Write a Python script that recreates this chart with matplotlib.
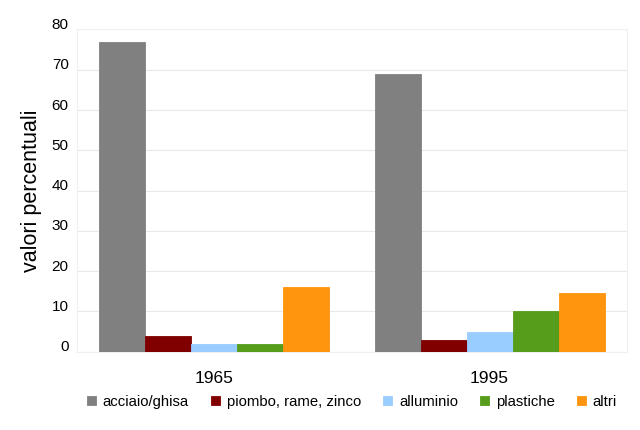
import numpy as np
import matplotlib
matplotlib.use("Agg")
import matplotlib.pyplot as plt
import matplotlib.transforms as mtransforms

plt.rcParams["font.family"] = ["Liberation Sans", "DejaVu Sans"]

# Composition by material, percent
YEARS = ["1965", "1995"]
MATERIALS = ["acciaio/ghisa", "piombo, rame, zinco", "alluminio", "plastiche", "altri"]
ACCIAIO = [77, 69]
PIOMBO = [4, 3]
ALLUMINIO = [2, 5]
PLASTICHE = [2, 10]
ALTRI = [16, 14.7]

COLORS = ["#808080", "#800000", "#99ccff", "#579d1c", "#ff950e"]

series = [ACCIAIO, PIOMBO, ALLUMINIO, PLASTICHE, ALTRI]

fig = plt.figure(figsize=(6.4, 4.3), dpi=100)
ax = fig.add_axes([0.1203, 0.182, 0.8594, 0.7494])

x = np.arange(len(YEARS))
n = len(series)
width = (230 / 275) / n
for i, (vals, name, col) in enumerate(zip(series, MATERIALS, COLORS)):
    offset = (i - (n - 1) / 2) * width
    ax.bar(x + offset, vals, width=width, color=col, edgecolor=col,
           linewidth=0.6, label=name, zorder=3)

ax.set_xlim(-0.5, 1.5)
ax.set_ylim(0, 80)
ax.set_yticks(np.arange(0, 81, 10))
ax.set_xticks(x)
ax.set_xticklabels(YEARS, fontsize=12.5)
ax.tick_params(axis="both", length=0)
ax.tick_params(axis="x", pad=14)
ax.tick_params(axis="y", labelsize=11, pad=6)

# y labels sit slightly above their gridlines
shift = mtransforms.ScaledTranslation(0, 6 / 100, fig.dpi_scale_trans)
for lbl in ax.get_yticklabels():
    lbl.set_transform(lbl.get_transform() + shift)

ax.grid(axis="y", color="#e8e8e8", linewidth=0.8, zorder=0)
for side in ["top", "right", "left", "bottom"]:
    ax.spines[side].set_color("#f0f0f0")
    ax.spines[side].set_linewidth(0.8)

ax.set_ylabel("valori percentuali", fontsize=15.5, labelpad=7)

ax.legend(loc="center", bbox_to_anchor=(0.5, -0.155), ncol=5,
          frameon=False, fontsize=10.7, handlelength=0.6, handleheight=0.65,
          handletextpad=0.45, columnspacing=1.5, borderaxespad=0)

fig.savefig("out.png", dpi=100, facecolor="white")
